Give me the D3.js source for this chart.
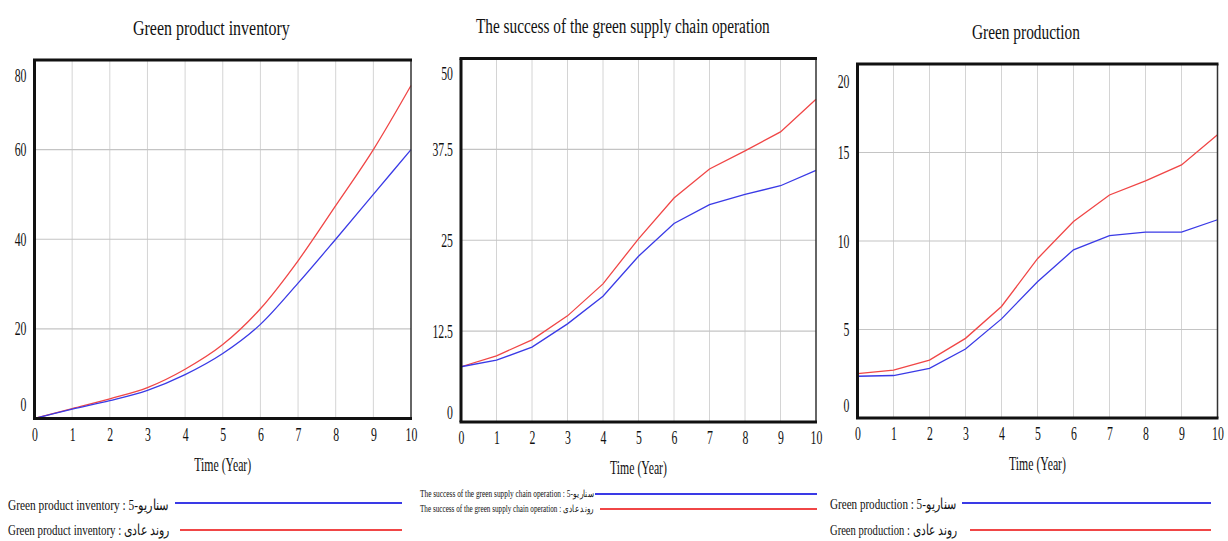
<!DOCTYPE html>
<html>
<head>
<meta charset="utf-8">
<script src="https://cdn.jsdelivr.net/npm/d3@7"></script>
<style>
  html, body { margin: 0; padding: 0; background: #fff; }
  svg { display: block; }
  text { font-family: "Liberation Serif", "Times New Roman", "DejaVu Serif", serif; fill: #111; }
</style>
</head>
<body>
<svg id="chart" width="1228" height="541"></svg>
<script>
// ---------- data ----------
const years = [0, 1, 2, 3, 4, 5, 6, 7, 8, 9, 10];
const xTickLabels = ["0", "1", "2", "3", "4", "5", "6", "7", "8", "9", "10"];

const titles = [
  "Green product inventory",
  "The success of the green supply chain operation",
  "Green production"
];
const scenarioSuffix = " : سناریو-5";
const normalSuffix = " : روند عادی";
const xAxisTitle = "Time (Year)";

// Green product inventory
const inventoryScenario5 = [0, 2.1, 4.0, 6.3, 9.8, 14.5, 21.0, 30.2, 40.0, 50.0, 60.0];
const inventoryNormal    = [0, 2.2, 4.4, 6.9, 11.0, 16.5, 24.5, 35.2, 47.5, 60.0, 74.3];
const inventoryTicks = [0, 20, 40, 60, 80];
const inventoryTickLabels = ["0", "20", "40", "60", "80"];

// The success of the green supply chain operation
const successScenario5 = [7.6, 8.5, 10.3, 13.5, 17.3, 22.8, 27.3, 29.9, 31.3, 32.5, 34.6];
const successNormal    = [7.6, 9.1, 11.3, 14.6, 19.0, 25.2, 30.8, 34.8, 37.3, 39.9, 44.4];
const successTicks = [0, 12.5, 25, 37.5, 50];
const successTickLabels = ["0", "12.5", "25", "37.5", "50"];

// Green production
const productionScenario5 = [2.36, 2.4, 2.8, 3.9, 5.6, 7.7, 9.5, 10.3, 10.5, 10.5, 11.2];
const productionNormal    = [2.51, 2.7, 3.27, 4.5, 6.3, 9.0, 11.1, 12.6, 13.4, 14.3, 16.0];
const productionTicks = [0, 5, 10, 15, 20];
const productionTickLabels = ["0", "5", "10", "15", "20"];

// ---------- layout ----------
const BLUE = "#3a3ae6", RED = "#f04646";
const SX = 0.62; // horizontal compression of the original picture's text

const panels = [
  {
    title: titles[0], s5: inventoryScenario5, nrm: inventoryNormal,
    ticks: inventoryTicks, tickLabels: inventoryTickLabels, max: 80,
    box: {l: 34.5, r: 411, t: 60, b: 418.5}, curve: d3.curveMonotoneX,
    titleX: [133, 290], titleY: 35,
    legend: {font: 15, textX: 8, textW: 162, rows: [
      {y: 503, ty: 510, x1: 175, x2: 402},
      {y: 530, ty: 535, x1: 180, x2: 402}]},
    yLabShift: [-14, 15]
  },
  {
    title: titles[1], s5: successScenario5, nrm: successNormal,
    ticks: successTicks, tickLabels: successTickLabels, max: 50,
    box: {l: 461, r: 816, t: 58.5, b: 422}, curve: d3.curveLinear,
    titleX: [476, 770], titleY: 33,
    legend: {font: 10, textX: 420, textW: 173, rows: [
      {y: 494, ty: 497, x1: 595, x2: 817},
      {y: 509, ty: 512, x1: 600, x2: 817}]},
    yLabShift: [-10, 15]
  },
  {
    title: titles[2], s5: productionScenario5, nrm: productionNormal,
    ticks: productionTicks, tickLabels: productionTickLabels, max: 20,
    box: {l: 857.5, r: 1217.5, t: 64, b: 418}, curve: d3.curveLinear,
    titleX: [972, 1080], titleY: 39,
    legend: {font: 15, textX: 830, textW: 127, rows: [
      {y: 503, ty: 509, x1: 962, x2: 1211},
      {y: 530, ty: 535, x1: 970, x2: 1211}]},
    yLabShift: [-13, 17]
  }
];

const svg = d3.select("#chart");

function fitText(node, x, y, w) {
  const len = node.getComputedTextLength();
  node.setAttribute("transform", `translate(${x},${y}) scale(${w / len},1)`);
}

panels.forEach(p => {
  const g = svg.append("g");
  const {l, r, t, b} = p.box;
  const x = d3.scaleLinear().domain([0, 10]).range([l, r]);
  const y = d3.scaleLinear().domain([0, p.max]).range([b, t]);

  // grid
  g.append("g").selectAll("line.v").data(years.slice(1, -1)).join("line")
    .attr("x1", d => x(d)).attr("x2", d => x(d)).attr("y1", t).attr("y2", b)
    .attr("stroke", "#d4d4d4").attr("stroke-width", 1);
  g.append("g").selectAll("line.h").data(p.ticks.slice(1, -1)).join("line")
    .attr("x1", l).attr("x2", r).attr("y1", d => y(d)).attr("y2", d => y(d))
    .attr("stroke", "#c4c4c4").attr("stroke-width", 1.2);

  // series
  const line = d3.line().x((d, i) => x(years[i])).y(d => y(d)).curve(p.curve);
  g.append("path").datum(p.nrm).attr("d", line)
    .attr("fill", "none").attr("stroke", RED).attr("stroke-width", 1.3);
  g.append("path").datum(p.s5).attr("d", line)
    .attr("fill", "none").attr("stroke", BLUE).attr("stroke-width", 1.3);

  // frame
  g.append("line").attr("x1", r).attr("x2", r).attr("y1", t).attr("y2", b)
    .attr("stroke", "#333").attr("stroke-width", 1.5);
  g.append("line").attr("x1", l - 1.5).attr("x2", r + 1).attr("y1", t).attr("y2", t)
    .attr("stroke", "#111").attr("stroke-width", 3);
  g.append("line").attr("x1", l).attr("x2", l).attr("y1", t).attr("y2", b)
    .attr("stroke", "#111").attr("stroke-width", 3);
  g.append("line").attr("x1", l - 1.5).attr("x2", r + 1).attr("y1", b).attr("y2", b)
    .attr("stroke", "#111").attr("stroke-width", 3);

  // x axis labels
  const xAxis = d3.axisBottom(x).tickValues(years)
    .tickFormat((d, i) => xTickLabels[i]).tickSize(0).tickPadding(9);
  const xa = g.append("g").attr("transform", `translate(0,${b})`).call(xAxis);
  xa.select(".domain").remove();
  xa.selectAll("text").attr("font-size", 19).attr("fill", "#222")
    .attr("font-family", "Liberation Serif, serif")
    .attr("transform", `scale(${SX},1)`);

  // y axis labels
  const yAxis = d3.axisLeft(y).tickValues(p.ticks)
    .tickFormat((d, i) => p.tickLabels[i]).tickSize(0);
  const ya = g.append("g").attr("transform", `translate(${l},0)`).call(yAxis);
  ya.select(".domain").remove();
  ya.selectAll("text").attr("font-size", 19).attr("fill", "#222")
    .attr("font-family", "Liberation Serif, serif")
    .attr("x", -8 / SX)
    .attr("y", (d, i) => i === 0 ? p.yLabShift[0] : (i === p.ticks.length - 1 ? p.yLabShift[1] : 0))
    .attr("transform", `scale(${SX},1)`);

  // axis title
  g.append("text").text(xAxisTitle)
    .attr("font-size", 19).attr("text-anchor", "middle")
    .attr("transform", `translate(${(l + r) / 2},${b + 52}) scale(${SX},1)`);

  // chart title
  const tt = g.append("text").text(p.title).attr("font-size", 20).attr("fill", "#111");
  fitText(tt.node(), p.titleX[0], p.titleY, p.titleX[1] - p.titleX[0]);

  // legend
  const lg = p.legend;
  const labels = [p.title + scenarioSuffix, p.title + normalSuffix];
  const colors = [BLUE, RED];
  lg.rows.forEach((row, i) => {
    const tx = g.append("text").text(labels[i]).attr("font-size", lg.font)
      .attr("direction", "ltr").attr("fill", "#111");
    fitText(tx.node(), lg.textX, row.ty, lg.textW);
    g.append("line").attr("x1", row.x1).attr("x2", row.x2)
      .attr("y1", row.y).attr("y2", row.y)
      .attr("stroke", colors[i]).attr("stroke-width", 2);
  });
});
</script>
</body>
</html>
